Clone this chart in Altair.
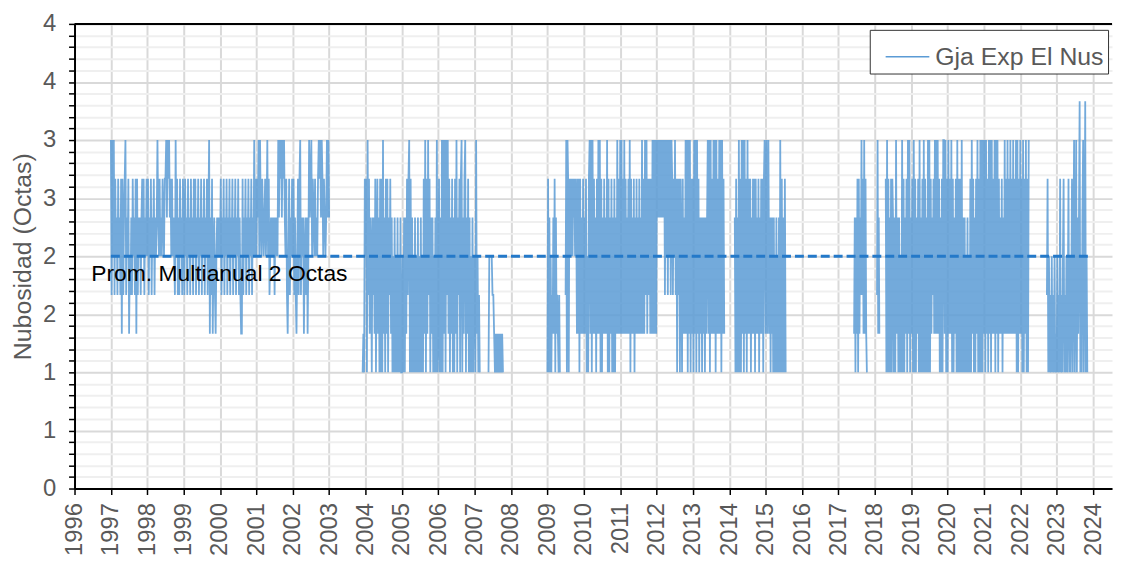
import altair as alt
import pandas as pd

SERIES_NAME = "Gja Exp El Nus"
Y_TITLE = "Nubosidad (Octas)"
AVG_TEXT = "Prom. Multianual 2 Octas"

# level codes (daily means in thirds of an octa)
LEVEL = {"1": 1.0, "2": 1.333, "3": 1.667, "4": 2.0, "5": 2.333,
         "6": 2.667, "7": 3.0, "8": 3.333}

# ---- observed sequences, one string per stretch (codes above) ----
A_1997 = "73747364536453626356735462435364536263545356463546"
A_1998 = ("4635463546354" "575" "464546546" "67576756" "46454" "37" "4635364536")
A_1999 = ("53645364536453646354635463546354635" "725362453245454")
A_2000 = ("4635463546354635463546354635" "322" "6354635463546354" "7" "46")
A_2001 = ("465" "747" "546545645" "7" "4634" "5454535454" "7576757675" "463" "2" "463546")
A_2002 = ("46353" "2" "4636" "73545" "2" "4535" "2" "4756" "7" "465464546" "767576" "4654" "57575")

B_2003 = "1216"
B_2004a = "4617362541535261462516"
B_2004b = "16172516261536251415141514151"
B_2005 = "14151526367161514151415141514162716273615251415171"
B_2006 = "26151717271737261526151627153616715267152615141514"
B_2007 = "41724131"
B2_2007 = "1444433212121212121"

C1_2009 = "16151413252615232131"
C2_2009 = "3717616464646564652626"
C2_2010 = ("16252625261416" "72717262" "5162" "727161" "526252" "71" "6152615161" "527262")
C2_2011a = ("7272627262" "5262" "71" "6252" "61" "5262" "526252")
C2_2011b = "7262737263626272"
C2_2012a = ("72727" "575757575" "7374737473" "7")
C2_2012b = "63647361636164"
C2_2013 = ("16252" "72717271" "626" "17271726" "152515251525" "727172627271726272717262")
C3_2014a = "51615171"
C3_2014b = "6172717261"
C3_2014c = "7262615262616252615262616"
C3_2015a = "72727"
C3_2015b = "25152515141514151"
C3_2015c = "71615161"

D1_2017 = "25152616253736272621"
D2_2018 = "37252"
D3_2018a = "61716151616"
D3_2018b = "515172515141"
D3_2018c = "7161526172715261716152617"
D3_2019 = "1516171615171716253627272726151617"
D3_2020a = "72716172627161526171616171"
D3_2020b = "515141514161726151627161"
D3_2021a = "7171727172617271726271727162"
D3_2021b = "526152"
D3_2021c = "72627262726272627"
D3_2022 = "171627261716271617"

E_2023 = ("3614" "131413141214131" "6" "1314" "6" "131413" "6" "1413" "6" "14" "7"
          "13" "7" "1525" "8" "1415" "7" "14" "8" "141")

# (stretch id, start year, end year, sequence)
PIECES = [
    ("A", 1997.00, 1998.00, A_1997), ("A", 1998.00, 1999.00, A_1998),
    ("A", 1999.00, 2000.00, A_1999), ("A", 2000.00, 2001.00, A_2000),
    ("A", 2001.00, 2002.00, A_2001), ("A", 2002.00, 2003.02, A_2002),
    ("B", 2003.92, 2004.00, B_2003), ("B", 2004.00, 2004.42, B_2004a),
    ("B", 2004.42, 2005.00, B_2004b), ("B", 2005.00, 2006.00, B_2005),
    ("B", 2006.00, 2007.00, B_2006), ("B", 2007.00, 2007.16, B_2007),
    ("B2", 2007.38, 2007.80, B2_2007),
    ("C1", 2009.00, 2009.36, C1_2009),
    ("C2", 2009.50, 2009.88, C2_2009), ("C2", 2009.88, 2011.00, C2_2010),
    ("C2", 2011.00, 2011.60, C2_2011a), ("C2", 2011.60, 2011.93, C2_2011b),
    ("C2", 2011.93, 2012.43, C2_2012a), ("C2", 2012.43, 2012.70, C2_2012b),
    ("C2", 2012.70, 2013.88, C2_2013),
    ("C3", 2014.15, 2014.30, C3_2014a), ("C3", 2014.30, 2014.50, C3_2014b),
    ("C3", 2014.50, 2014.97, C3_2014c), ("C3", 2014.97, 2015.10, C3_2015a),
    ("C3", 2015.10, 2015.40, C3_2015b), ("C3", 2015.40, 2015.57, C3_2015c),
    ("D1", 2017.43, 2017.80, D1_2017),
    ("D2", 2018.06, 2018.14, D2_2018),
    ("D3", 2018.30, 2018.50, D3_2018a), ("D3", 2018.50, 2018.75, D3_2018b),
    ("D3", 2018.75, 2019.25, D3_2018c), ("D3", 2019.25, 2019.90, D3_2019),
    ("D3", 2019.90, 2020.43, D3_2020a), ("D3", 2020.43, 2020.90, D3_2020b),
    ("D3", 2020.90, 2021.45, D3_2021a), ("D3", 2021.45, 2021.57, D3_2021b),
    ("D3", 2021.57, 2021.90, D3_2021c), ("D3", 2021.90, 2022.25, D3_2022),
    ("E", 2022.73, 2023.86, E_2023),
]

YEARS = [1996, 1997, 1998, 1999, 2000, 2001, 2002, 2003, 2004, 2005, 2006, 2007,
         2008, 2009, 2010, 2011, 2012, 2013, 2014, 2015, 2016, 2017, 2018, 2019,
         2020, 2021, 2022, 2023, 2024]
Y_TICKS = [0.0, 0.1, 0.2, 0.3, 0.4, 0.5, 0.6, 0.7, 0.8, 0.9, 1.0, 1.1, 1.2, 1.3,
           1.4, 1.5, 1.6, 1.7, 1.8, 1.9, 2.0, 2.1, 2.2, 2.3, 2.4, 2.5, 2.6, 2.7,
           2.8, 2.9, 3.0, 3.1, 3.2, 3.3, 3.4, 3.5, 3.6, 3.7, 3.8, 3.9, 4.0]

AVG_X = [1997.0, 2023.87]
AVG_Y = [2.0, 2.0]
LABEL_X = [1996.46]
LABEL_Y = [1.85]

# ---- tables ----
rows = []
for seg, t0, t1, seq in PIECES:
    n = len(seq)
    for i, c in enumerate(seq):
        rows.append({"yr": t0 + (t1 - t0) * i / n, "val": LEVEL[c],
                     "seg": seg, "serie": SERIES_NAME})
obs = pd.DataFrame(rows)
avg = pd.DataFrame({"yr": AVG_X, "val": AVG_Y})
lab = pd.DataFrame({"yr": LABEL_X, "val": LABEL_Y, "txt": [AVG_TEXT]})
top = pd.DataFrame({"val": [4.0]})

FONT = "Liberation Sans"
GREY = "#595959"
MAJOR = "abs(datum.value*2 - round(datum.value*2)) < 0.01"

X = alt.X("yr:Q",
          scale=alt.Scale(domain=[1996, 2024.52], nice=False, zero=False),
          axis=alt.Axis(values=YEARS, format="d", labelAngle=270, labelFontSize=24,
                        labelColor=GREY, labelFont=FONT, labelPadding=8,
                        labelFlush=False, labelOverlap=False, tickSize=6,
                        tickColor="black", tickWidth=1.5, domainColor="black",
                        domainWidth=2, gridColor="#d9d9d9", gridWidth=2, title=None))
Y = alt.Y("val:Q",
          scale=alt.Scale(domain=[0, 4], nice=False, zero=False),
          axis=alt.Axis(values=Y_TICKS,
                        labelExpr=MAJOR + " ? '' + ceil(round(datum.value*2)/2) : ''",
                        labelFontSize=24, labelColor=GREY, labelFont=FONT,
                        labelPadding=13, labelOverlap=False, tickSize=6,
                        tickColor="black", tickWidth=1.5, domainColor="black",
                        domainWidth=2,
                        gridColor={"condition": {"test": MAJOR, "value": "#d9d9d9"},
                                   "value": "#efefef"},
                        gridWidth=2, title=Y_TITLE, titleFontSize=25,
                        titleColor=GREY, titleFont=FONT, titleFontWeight="normal",
                        titlePadding=7))

line = alt.Chart(obs).mark_line(strokeWidth=1.8, opacity=0.85).encode(
    x=X, y=Y, detail="seg:N",
    color=alt.Color("serie:N",
                    scale=alt.Scale(domain=[SERIES_NAME], range=["#5B9BD5"]),
                    legend=alt.Legend(title=None, orient="none", legendX=801,
                                      legendY=6, symbolType="stroke",
                                      symbolSize=1936, symbolStrokeWidth=1.5,
                                      symbolOffset=11, symbolOpacity=1,
                                      labelFontSize=25, labelColor=GREY,
                                      labelFont=FONT, labelLimit=400,
                                      strokeColor="#333333", fillColor="white",
                                      padding=4, labelOffset=5)),
)

avg_line = alt.Chart(avg).mark_line(strokeDash=[9, 4], strokeWidth=3,
                                    color="#2479c9").encode(x=X, y=Y)

avg_text = alt.Chart(lab).mark_text(align="left", baseline="middle", fontSize=23,
                                    font=FONT, color="black").encode(
    x=X, y=Y, text="txt:N")

top_rule = alt.Chart(top).mark_rule(color="black", strokeWidth=2).encode(y=Y)

chart = alt.layer(line, avg_line, avg_text, top_rule).properties(
    width=1045, height=468,
    autosize=alt.AutoSizeParams(type="none"),
    padding={"left": 67, "top": 14, "right": 2, "bottom": 72},
    background="white",
).configure_view(stroke="transparent")

chart.save("out.html", embed_options={"renderer": "svg", "actions": False})
